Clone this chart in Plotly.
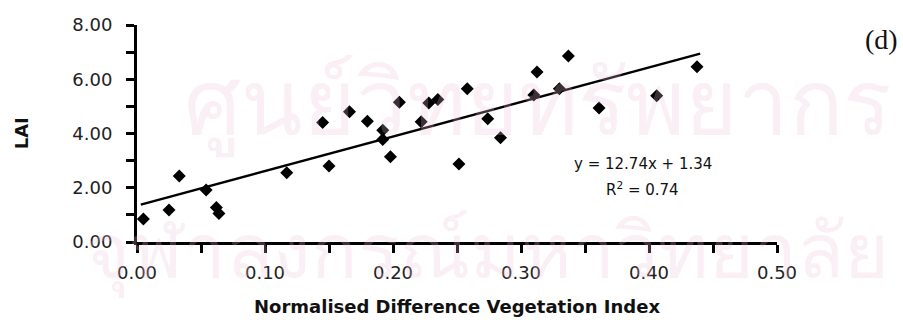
import plotly.graph_objects as go

# Data
ndvi = [0.005, 0.025, 0.033, 0.054, 0.062, 0.064, 0.117, 0.150, 0.145, 0.166,
        0.180, 0.192, 0.192, 0.198, 0.205, 0.222, 0.228, 0.235, 0.2515, 0.258,
        0.274, 0.284, 0.310, 0.3125, 0.330, 0.337, 0.361, 0.406, 0.4375]
lai = [0.85, 1.18, 2.43, 1.92, 1.27, 1.05, 2.55, 2.80, 4.41, 4.80,
       4.45, 4.12, 3.78, 3.14, 5.15, 4.43, 5.12, 5.25, 2.88, 5.65,
       4.54, 3.84, 5.42, 6.27, 5.65, 6.86, 4.94, 5.39, 6.46]

slope = 12.74
intercept = 1.34
fit_x = [0.003, 0.44]
fit_y = [slope * x + intercept for x in fit_x]

wm_top = "ศูนย์วิทยทรัพยากร"
wm_bottom = "จุฬาลงกรณ์มหาวิทยาลัย"

fig = go.Figure()

fig.add_trace(go.Scatter(x=fit_x, y=fit_y, mode="lines",
                         line=dict(color="black", width=2.5),
                         hoverinfo="skip", showlegend=False))
fig.add_trace(go.Scatter(x=ndvi, y=lai, mode="markers",
                         marker=dict(symbol="diamond", size=10, color="black"),
                         showlegend=False, cliponaxis=False))

tickfont = dict(family="DejaVu Sans", size=18, color="#222")
wm_color = "rgba(235,190,215,0.25)"

fig.update_layout(
    width=903, height=320,
    margin=dict(l=137, r=126, t=25, b=78),
    paper_bgcolor="white", plot_bgcolor="rgba(0,0,0,0)",
    xaxis=dict(range=[0, 0.5], tick0=0, dtick=0.1, tickformat=".2f",
               showgrid=False, zeroline=False, showline=True,
               linecolor="black", linewidth=3, ticks="outside",
               ticklen=8, tickwidth=3, tickcolor="black", tickfont=tickfont,
               ticklabelstandoff=4,
               minor=dict(tick0=0, dtick=0.05, ticks="outside", ticklen=8,
                          tickwidth=3, tickcolor="black", showgrid=False)),
    yaxis=dict(range=[0, 8], tick0=0, dtick=2, tickformat=".2f",
               showgrid=False, zeroline=False, showline=True,
               linecolor="black", linewidth=3, ticks="outside",
               ticklen=8, tickwidth=3, tickcolor="black", tickfont=tickfont,
               ticklabelstandoff=10,
               minor=dict(tick0=0, dtick=1, ticks="outside", ticklen=8,
                          tickwidth=3, tickcolor="black", showgrid=False)),
    annotations=[
        dict(text=wm_top, xref="paper", yref="paper", x=0.625, y=0.66,
             showarrow=False, font=dict(size=90, color=wm_color),
             xanchor="center", yanchor="middle"),
        dict(text=wm_bottom, xref="paper", yref="paper", x=-0.085, y=-0.03,
             showarrow=False, font=dict(size=77, color=wm_color),
             xanchor="left", yanchor="middle"),
        dict(text="<b>Normalised Difference Vegetation Index</b>", xref="paper",
             yref="paper", x=0.5, y=-0.295, showarrow=False,
             font=dict(family="DejaVu Sans", size=18, color="#111"),
             xanchor="center", yanchor="middle"),
        dict(text="<b>LAI</b>", xref="paper", yref="paper", x=-0.18, y=0.5,
             showarrow=False, textangle=-90,
             font=dict(family="DejaVu Sans", size=18, color="#111"),
             xanchor="center", yanchor="middle"),
        dict(text="y = 12.74x + 1.34", xref="paper", yref="paper", x=0.79, y=0.36,
             showarrow=False, font=dict(family="DejaVu Sans", size=15, color="#111"),
             xanchor="center", yanchor="middle"),
        dict(text="R<sup>2</sup> = 0.74", xref="paper", yref="paper", x=0.79, y=0.244,
             showarrow=False, font=dict(family="DejaVu Sans", size=15, color="#111"),
             xanchor="center", yanchor="middle"),
        dict(text="(d)", xref="paper", yref="paper", x=1.164, y=0.931,
             showarrow=False, font=dict(family="Liberation Serif", size=28, color="#111"),
             xanchor="center", yanchor="middle"),
    ],
)

fig.write_html("out.html")
